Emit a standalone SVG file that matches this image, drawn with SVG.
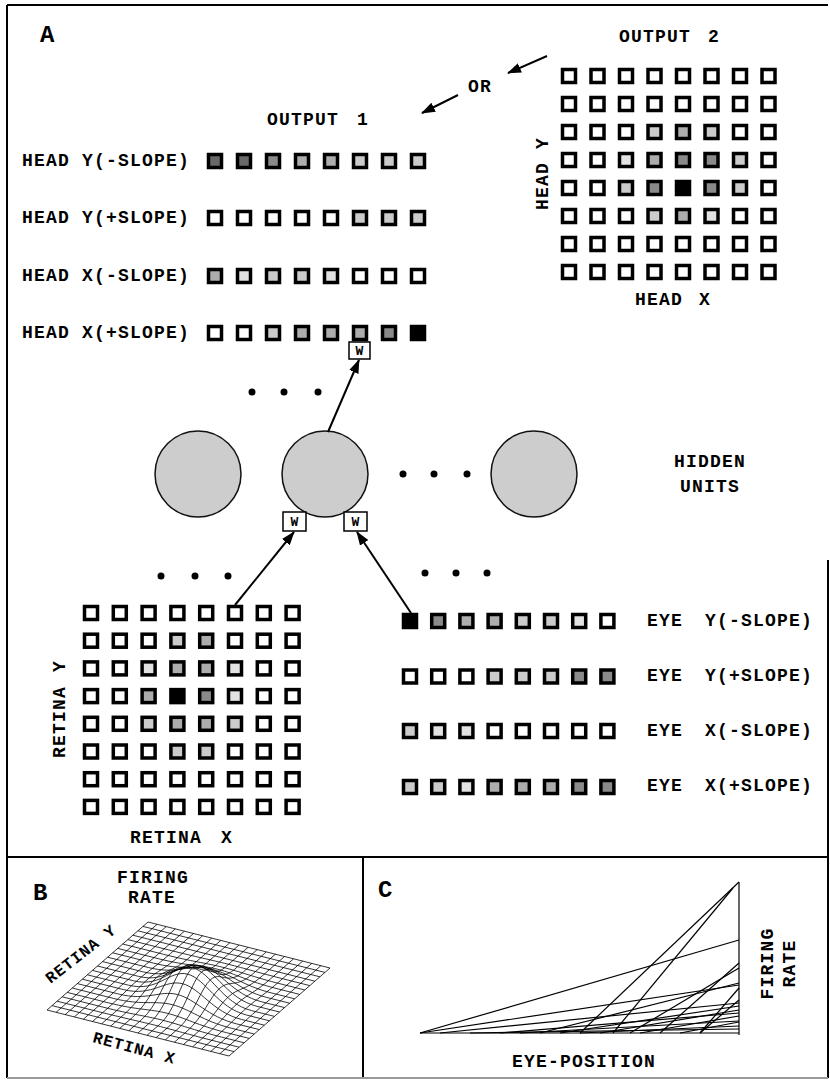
<svg xmlns="http://www.w3.org/2000/svg" width="830" height="1080" viewBox="0 0 830 1080">
<style>
.t{font-family:"Liberation Mono","Courier New",monospace;font-weight:bold;font-size:18px;letter-spacing:1.2px;fill:#000}
.tb{font-family:"Liberation Mono","Courier New",monospace;font-weight:bold;font-size:16px;letter-spacing:1px;fill:#000}
.big{font-family:"Liberation Mono","Courier New",monospace;font-weight:bold;font-size:24px;fill:#000}
.wt{font-family:"Liberation Mono","Courier New",monospace;font-weight:bold;font-size:13px;fill:#000}
.sq rect{stroke:#000;stroke-width:3.5}
.e{fill:#fff}.l1{fill:#e2e2e2}.l2{fill:#cbcbcb}.l3{fill:#adadad}.l4{fill:#8a8a8a}.l5{fill:#686868}.k{fill:#000}
.frame{stroke:#000;stroke-width:2;fill:none}
.arr{stroke:#000;stroke-width:2;fill:none}
.dot{fill:#000}
.unit{fill:#cdcdcd;stroke:#111;stroke-width:1.5}
.wbox{fill:#fff;stroke:#000;stroke-width:1.5}
.mesh path{fill:none;stroke:#000;stroke-width:0.8}
.curves line{stroke:#000;stroke-width:1.2}
</style>
<defs>
<marker id="ah" markerWidth="14" markerHeight="10" refX="13" refY="5" orient="auto" markerUnits="userSpaceOnUse"><path d="M0,0 L14,5 L0,10 z" fill="#000"/></marker>
</defs>

<g id="frame" class="frame">
<line x1="7" y1="5" x2="828" y2="5"/>
<line x1="7" y1="5" x2="7" y2="1078"/>
<line x1="828" y1="560" x2="828" y2="1078"/>
<line x1="7" y1="857" x2="828" y2="857"/>
<line x1="363" y1="857" x2="363" y2="1078"/>
<line x1="7" y1="1078" x2="828" y2="1078" stroke="#999"/>
</g>

<g id="panel-labels">
<text class="big" x="40" y="42">A</text>
<text class="big" x="33" y="900">B</text>
<text class="big" x="378" y="897">C</text>
</g>

<g id="output1">
<text class="t" x="267" y="125">OUTPUT <tspan x="357">1</tspan></text>
<text class="t" x="22" y="166">HEAD Y(-SLOPE)</text>
<text class="t" x="22" y="223">HEAD Y(+SLOPE)</text>
<text class="t" x="22" y="281">HEAD X(-SLOPE)</text>
<text class="t" x="22" y="338">HEAD X(+SLOPE)</text>
<g class="sq">
<rect x="208.5" y="154.5" width="13" height="13" class="l5"/><rect x="237.5" y="154.5" width="13" height="13" class="l5"/><rect x="266.5" y="154.5" width="13" height="13" class="l4"/><rect x="295.5" y="154.5" width="13" height="13" class="l3"/><rect x="324.5" y="154.5" width="13" height="13" class="l3"/><rect x="353.5" y="154.5" width="13" height="13" class="l2"/><rect x="382.5" y="154.5" width="13" height="13" class="l2"/><rect x="411.5" y="154.5" width="13" height="13" class="l2"/>
<rect x="208.5" y="211.5" width="13" height="13" class="e"/><rect x="237.5" y="211.5" width="13" height="13" class="e"/><rect x="266.5" y="211.5" width="13" height="13" class="e"/><rect x="295.5" y="211.5" width="13" height="13" class="e"/><rect x="324.5" y="211.5" width="13" height="13" class="e"/><rect x="353.5" y="211.5" width="13" height="13" class="l2"/><rect x="382.5" y="211.5" width="13" height="13" class="l2"/><rect x="411.5" y="211.5" width="13" height="13" class="l2"/>
<rect x="208.5" y="269.5" width="13" height="13" class="l3"/><rect x="237.5" y="269.5" width="13" height="13" class="l1"/><rect x="266.5" y="269.5" width="13" height="13" class="l2"/><rect x="295.5" y="269.5" width="13" height="13" class="l2"/><rect x="324.5" y="269.5" width="13" height="13" class="l1"/><rect x="353.5" y="269.5" width="13" height="13" class="e"/><rect x="382.5" y="269.5" width="13" height="13" class="e"/><rect x="411.5" y="269.5" width="13" height="13" class="e"/>
<rect x="208.5" y="326.5" width="13" height="13" class="e"/><rect x="237.5" y="326.5" width="13" height="13" class="e"/><rect x="266.5" y="326.5" width="13" height="13" class="l2"/><rect x="295.5" y="326.5" width="13" height="13" class="l3"/><rect x="324.5" y="326.5" width="13" height="13" class="l3"/><rect x="353.5" y="326.5" width="13" height="13" class="l3"/><rect x="382.5" y="326.5" width="13" height="13" class="l4"/><rect x="411.5" y="326.5" width="13" height="13" class="k"/>
</g>
</g>

<g id="output2">
<text class="t" x="619" y="42">OUTPUT <tspan x="708">2</tspan></text>
<text class="t" x="635" y="305">HEAD <tspan x="699">X</tspan></text>
<text class="t" transform="translate(548,210) rotate(-90)">HEAD <tspan x="61">Y</tspan></text>
<g class="sq">
<rect x="562.5" y="69.5" width="13" height="13" class="e"/><rect x="591" y="69.5" width="13" height="13" class="e"/><rect x="619.5" y="69.5" width="13" height="13" class="e"/><rect x="648" y="69.5" width="13" height="13" class="e"/><rect x="676.5" y="69.5" width="13" height="13" class="e"/><rect x="705" y="69.5" width="13" height="13" class="e"/><rect x="733.5" y="69.5" width="13" height="13" class="e"/><rect x="762" y="69.5" width="13" height="13" class="e"/>
<rect x="562.5" y="97.5" width="13" height="13" class="e"/><rect x="591" y="97.5" width="13" height="13" class="e"/><rect x="619.5" y="97.5" width="13" height="13" class="e"/><rect x="648" y="97.5" width="13" height="13" class="e"/><rect x="676.5" y="97.5" width="13" height="13" class="e"/><rect x="705" y="97.5" width="13" height="13" class="e"/><rect x="733.5" y="97.5" width="13" height="13" class="e"/><rect x="762" y="97.5" width="13" height="13" class="e"/>
<rect x="562.5" y="125.5" width="13" height="13" class="e"/><rect x="591" y="125.5" width="13" height="13" class="e"/><rect x="619.5" y="125.5" width="13" height="13" class="e"/><rect x="648" y="125.5" width="13" height="13" class="l2"/><rect x="676.5" y="125.5" width="13" height="13" class="l3"/><rect x="705" y="125.5" width="13" height="13" class="l2"/><rect x="733.5" y="125.5" width="13" height="13" class="e"/><rect x="762" y="125.5" width="13" height="13" class="e"/>
<rect x="562.5" y="153.5" width="13" height="13" class="e"/><rect x="591" y="153.5" width="13" height="13" class="e"/><rect x="619.5" y="153.5" width="13" height="13" class="l1"/><rect x="648" y="153.5" width="13" height="13" class="l3"/><rect x="676.5" y="153.5" width="13" height="13" class="l4"/><rect x="705" y="153.5" width="13" height="13" class="l4"/><rect x="733.5" y="153.5" width="13" height="13" class="l2"/><rect x="762" y="153.5" width="13" height="13" class="e"/>
<rect x="562.5" y="181.5" width="13" height="13" class="e"/><rect x="591" y="181.5" width="13" height="13" class="e"/><rect x="619.5" y="181.5" width="13" height="13" class="l2"/><rect x="648" y="181.5" width="13" height="13" class="l4"/><rect x="676.5" y="181.5" width="13" height="13" class="k"/><rect x="705" y="181.5" width="13" height="13" class="l4"/><rect x="733.5" y="181.5" width="13" height="13" class="l2"/><rect x="762" y="181.5" width="13" height="13" class="e"/>
<rect x="562.5" y="209.5" width="13" height="13" class="e"/><rect x="591" y="209.5" width="13" height="13" class="e"/><rect x="619.5" y="209.5" width="13" height="13" class="e"/><rect x="648" y="209.5" width="13" height="13" class="l2"/><rect x="676.5" y="209.5" width="13" height="13" class="l3"/><rect x="705" y="209.5" width="13" height="13" class="l1"/><rect x="733.5" y="209.5" width="13" height="13" class="e"/><rect x="762" y="209.5" width="13" height="13" class="e"/>
<rect x="562.5" y="237.5" width="13" height="13" class="e"/><rect x="591" y="237.5" width="13" height="13" class="e"/><rect x="619.5" y="237.5" width="13" height="13" class="e"/><rect x="648" y="237.5" width="13" height="13" class="e"/><rect x="676.5" y="237.5" width="13" height="13" class="e"/><rect x="705" y="237.5" width="13" height="13" class="e"/><rect x="733.5" y="237.5" width="13" height="13" class="e"/><rect x="762" y="237.5" width="13" height="13" class="e"/>
<rect x="562.5" y="265.5" width="13" height="13" class="e"/><rect x="591" y="265.5" width="13" height="13" class="e"/><rect x="619.5" y="265.5" width="13" height="13" class="e"/><rect x="648" y="265.5" width="13" height="13" class="e"/><rect x="676.5" y="265.5" width="13" height="13" class="e"/><rect x="705" y="265.5" width="13" height="13" class="e"/><rect x="733.5" y="265.5" width="13" height="13" class="e"/><rect x="762" y="265.5" width="13" height="13" class="e"/>
</g>
</g>

<g id="or-label"><text class="t" x="468" y="92">OR</text></g>

<g id="hidden-units">
<circle class="unit" cx="198" cy="474" r="43"/>
<circle class="unit" cx="325" cy="474" r="43"/>
<circle class="unit" cx="534" cy="474" r="43"/>
<circle class="dot" cx="403" cy="474" r="3.5"/><circle class="dot" cx="434" cy="474" r="3.5"/><circle class="dot" cx="467" cy="474" r="3.5"/>
<text class="t" x="710" y="467" text-anchor="middle">HIDDEN</text>
<text class="t" x="710" y="492" text-anchor="middle">UNITS</text>
</g>

<g id="dots-top"><circle class="dot" cx="252" cy="392" r="3.5"/><circle class="dot" cx="284" cy="392" r="3.5"/><circle class="dot" cx="318" cy="392" r="3.5"/></g>
<g id="dots-retina"><circle class="dot" cx="161" cy="576" r="3.5"/><circle class="dot" cx="195" cy="576" r="3.5"/><circle class="dot" cx="228" cy="576" r="3.5"/></g>
<g id="dots-eye"><circle class="dot" cx="425" cy="573" r="3.5"/><circle class="dot" cx="456" cy="573" r="3.5"/><circle class="dot" cx="487" cy="573" r="3.5"/></g>

<g id="w-out"><rect class="wbox" x="349" y="342" width="21" height="17"/><text class="wt" x="359.5" y="355" text-anchor="middle">W</text></g>
<g id="w-retina"><rect class="wbox" x="283" y="512" width="23" height="19"/><text class="wt" x="294.5" y="526" text-anchor="middle">W</text></g>
<g id="w-eye"><rect class="wbox" x="344" y="512" width="23" height="19"/><text class="wt" x="355.5" y="526" text-anchor="middle">W</text></g>

<g id="retina">
<text class="t" x="130" y="843">RETINA <tspan x="221">X</tspan></text>
<text class="t" transform="translate(65,758) rotate(-90)">RETINA <tspan x="86">Y</tspan></text>
<g class="sq">
<rect x="84.5" y="606.5" width="13" height="13" class="e"/><rect x="113.3" y="606.5" width="13" height="13" class="e"/><rect x="142.1" y="606.5" width="13" height="13" class="e"/><rect x="170.9" y="606.5" width="13" height="13" class="e"/><rect x="199.7" y="606.5" width="13" height="13" class="e"/><rect x="228.5" y="606.5" width="13" height="13" class="e"/><rect x="257.3" y="606.5" width="13" height="13" class="e"/><rect x="286.1" y="606.5" width="13" height="13" class="e"/>
<rect x="84.5" y="634.2" width="13" height="13" class="e"/><rect x="113.3" y="634.2" width="13" height="13" class="e"/><rect x="142.1" y="634.2" width="13" height="13" class="e"/><rect x="170.9" y="634.2" width="13" height="13" class="l2"/><rect x="199.7" y="634.2" width="13" height="13" class="l3"/><rect x="228.5" y="634.2" width="13" height="13" class="e"/><rect x="257.3" y="634.2" width="13" height="13" class="e"/><rect x="286.1" y="634.2" width="13" height="13" class="e"/>
<rect x="84.5" y="661.9" width="13" height="13" class="e"/><rect x="113.3" y="661.9" width="13" height="13" class="e"/><rect x="142.1" y="661.9" width="13" height="13" class="l1"/><rect x="170.9" y="661.9" width="13" height="13" class="l3"/><rect x="199.7" y="661.9" width="13" height="13" class="l3"/><rect x="228.5" y="661.9" width="13" height="13" class="l1"/><rect x="257.3" y="661.9" width="13" height="13" class="e"/><rect x="286.1" y="661.9" width="13" height="13" class="e"/>
<rect x="84.5" y="689.6" width="13" height="13" class="e"/><rect x="113.3" y="689.6" width="13" height="13" class="e"/><rect x="142.1" y="689.6" width="13" height="13" class="l3"/><rect x="170.9" y="689.6" width="13" height="13" class="k"/><rect x="199.7" y="689.6" width="13" height="13" class="l4"/><rect x="228.5" y="689.6" width="13" height="13" class="l1"/><rect x="257.3" y="689.6" width="13" height="13" class="e"/><rect x="286.1" y="689.6" width="13" height="13" class="e"/>
<rect x="84.5" y="717.3" width="13" height="13" class="e"/><rect x="113.3" y="717.3" width="13" height="13" class="e"/><rect x="142.1" y="717.3" width="13" height="13" class="l2"/><rect x="170.9" y="717.3" width="13" height="13" class="l3"/><rect x="199.7" y="717.3" width="13" height="13" class="l3"/><rect x="228.5" y="717.3" width="13" height="13" class="l2"/><rect x="257.3" y="717.3" width="13" height="13" class="e"/><rect x="286.1" y="717.3" width="13" height="13" class="e"/>
<rect x="84.5" y="745" width="13" height="13" class="e"/><rect x="113.3" y="745" width="13" height="13" class="e"/><rect x="142.1" y="745" width="13" height="13" class="e"/><rect x="170.9" y="745" width="13" height="13" class="l2"/><rect x="199.7" y="745" width="13" height="13" class="l2"/><rect x="228.5" y="745" width="13" height="13" class="e"/><rect x="257.3" y="745" width="13" height="13" class="e"/><rect x="286.1" y="745" width="13" height="13" class="e"/>
<rect x="84.5" y="772.7" width="13" height="13" class="e"/><rect x="113.3" y="772.7" width="13" height="13" class="e"/><rect x="142.1" y="772.7" width="13" height="13" class="e"/><rect x="170.9" y="772.7" width="13" height="13" class="e"/><rect x="199.7" y="772.7" width="13" height="13" class="e"/><rect x="228.5" y="772.7" width="13" height="13" class="e"/><rect x="257.3" y="772.7" width="13" height="13" class="e"/><rect x="286.1" y="772.7" width="13" height="13" class="e"/>
<rect x="84.5" y="800.4" width="13" height="13" class="e"/><rect x="113.3" y="800.4" width="13" height="13" class="e"/><rect x="142.1" y="800.4" width="13" height="13" class="e"/><rect x="170.9" y="800.4" width="13" height="13" class="e"/><rect x="199.7" y="800.4" width="13" height="13" class="e"/><rect x="228.5" y="800.4" width="13" height="13" class="e"/><rect x="257.3" y="800.4" width="13" height="13" class="e"/><rect x="286.1" y="800.4" width="13" height="13" class="e"/>
</g>
</g>

<g id="eye">
<text class="t" y="626"><tspan x="647">EYE</tspan><tspan x="705">Y(-SLOPE)</tspan></text>
<text class="t" y="681"><tspan x="647">EYE</tspan><tspan x="705">Y(+SLOPE)</tspan></text>
<text class="t" y="736"><tspan x="647">EYE</tspan><tspan x="705">X(-SLOPE)</tspan></text>
<text class="t" y="791"><tspan x="647">EYE</tspan><tspan x="705">X(+SLOPE)</tspan></text>
<g class="sq">
<rect x="403.5" y="614.5" width="13" height="13" class="k"/><rect x="431.7" y="614.5" width="13" height="13" class="l4"/><rect x="459.9" y="614.5" width="13" height="13" class="l3"/><rect x="488.1" y="614.5" width="13" height="13" class="l3"/><rect x="516.3" y="614.5" width="13" height="13" class="l2"/><rect x="544.5" y="614.5" width="13" height="13" class="l2"/><rect x="572.7" y="614.5" width="13" height="13" class="l1"/><rect x="600.9" y="614.5" width="13" height="13" class="e"/>
<rect x="403.5" y="670" width="13" height="13" class="e"/><rect x="431.7" y="670" width="13" height="13" class="e"/><rect x="459.9" y="670" width="13" height="13" class="e"/><rect x="488.1" y="670" width="13" height="13" class="l2"/><rect x="516.3" y="670" width="13" height="13" class="l2"/><rect x="544.5" y="670" width="13" height="13" class="l2"/><rect x="572.7" y="670" width="13" height="13" class="l4"/><rect x="600.9" y="670" width="13" height="13" class="l4"/>
<rect x="403.5" y="724.5" width="13" height="13" class="l2"/><rect x="431.7" y="724.5" width="13" height="13" class="l1"/><rect x="459.9" y="724.5" width="13" height="13" class="l1"/><rect x="488.1" y="724.5" width="13" height="13" class="e"/><rect x="516.3" y="724.5" width="13" height="13" class="e"/><rect x="544.5" y="724.5" width="13" height="13" class="e"/><rect x="572.7" y="724.5" width="13" height="13" class="e"/><rect x="600.9" y="724.5" width="13" height="13" class="e"/>
<rect x="403.5" y="780.5" width="13" height="13" class="l2"/><rect x="431.7" y="780.5" width="13" height="13" class="l2"/><rect x="459.9" y="780.5" width="13" height="13" class="l1"/><rect x="488.1" y="780.5" width="13" height="13" class="l3"/><rect x="516.3" y="780.5" width="13" height="13" class="l3"/><rect x="544.5" y="780.5" width="13" height="13" class="l3"/><rect x="572.7" y="780.5" width="13" height="13" class="l4"/><rect x="600.9" y="780.5" width="13" height="13" class="l4"/>
</g>
</g>

<g id="connectors" class="arr">
<line x1="547" y1="56" x2="508" y2="73" marker-end="url(#ah)"/>
<line x1="458" y1="95" x2="422" y2="113" marker-end="url(#ah)"/>
<line x1="328" y1="432" x2="359" y2="360" marker-end="url(#ah)"/>
<line x1="235" y1="605" x2="294" y2="532" marker-end="url(#ah)"/>
<line x1="411" y1="613" x2="357" y2="532" marker-end="url(#ah)"/>
</g>

<g id="panel-b">
<text class="t" x="153" y="883" text-anchor="middle">FIRING</text>
<text class="t" x="152" y="903" text-anchor="middle">RATE</text>
<text class="tb" transform="translate(84,958) rotate(-38)" text-anchor="middle">RETINA Y</text>
<text class="tb" transform="translate(133,1053) rotate(15)" text-anchor="middle">RETINA X</text>
<g class="mesh">
<path d="M148 922l182 46"/>
<path d="M142.95 926.4l182 46"/>
<path d="M137.9 930.8l182 46"/>
<path d="M132.85 935.2l182 46"/>
<path d="M127.8 939.6l40.95 10.35c29.58 7.48 40.95 9.6 59.15 14.2c18.2 4.6 29.58 8.23 59.15 15.7l22.75 5.75"/>
<path d="M122.75 944l40.95 10.35c29.58 7.48 40.95 8.35 59.15 12.95c18.2 4.6 29.58 9.48 59.15 16.95l22.75 5.75"/>
<path d="M117.7 948.4l40.95 10.35c29.58 7.48 40.95 5.95 59.15 10.55c18.2 4.6 29.58 11.88 59.15 19.35l22.75 5.75"/>
<path d="M112.65 952.8l40.95 10.35c29.58 7.48 40.95 1.75 59.15 6.35c18.2 4.6 29.58 16.08 59.15 23.55l22.75 5.75"/>
<path d="M107.6 957.2l40.95 10.35c29.58 7.48 40.95 -4.05 59.15 0.55c18.2 4.6 29.58 21.88 59.15 29.35l22.75 5.75"/>
<path d="M102.55 961.6l40.95 10.35c29.58 7.48 40.95 -10.45 59.15 -5.85c18.2 4.6 29.58 28.28 59.15 35.75l22.75 5.75"/>
<path d="M97.5 966l40.95 10.35c29.58 7.48 40.95 -15.65 59.15 -11.05c18.2 4.6 29.58 33.48 59.15 40.95l22.75 5.75"/>
<path d="M92.45 970.4l40.95 10.35c29.58 7.48 40.95 -17.65 59.15 -13.05c18.2 4.6 29.58 35.48 59.15 42.95l22.75 5.75"/>
<path d="M87.4 974.8l40.95 10.35c29.58 7.48 40.95 -15.65 59.15 -11.05c18.2 4.6 29.58 33.48 59.15 40.95l22.75 5.75"/>
<path d="M82.35 979.2l40.95 10.35c29.58 7.48 40.95 -10.45 59.15 -5.85c18.2 4.6 29.58 28.28 59.15 35.75l22.75 5.75"/>
<path d="M77.3 983.6l40.95 10.35c29.58 7.48 40.95 -4.05 59.15 0.55c18.2 4.6 29.58 21.88 59.15 29.35l22.75 5.75"/>
<path d="M72.25 988l40.95 10.35c29.58 7.48 40.95 1.75 59.15 6.35c18.2 4.6 29.58 16.08 59.15 23.55l22.75 5.75"/>
<path d="M67.2 992.4l40.95 10.35c29.58 7.48 40.95 5.95 59.15 10.55c18.2 4.6 29.58 11.88 59.15 19.35l22.75 5.75"/>
<path d="M62.15 996.8l40.95 10.35c29.58 7.48 40.95 8.35 59.15 12.95c18.2 4.6 29.58 9.48 59.15 16.95l22.75 5.75"/>
<path d="M57.1 1001.2l40.95 10.35c29.58 7.48 40.95 9.6 59.15 14.2c18.2 4.6 29.58 8.23 59.15 15.7l22.75 5.75"/>
<path d="M52.05 1005.6l182 46"/>
<path d="M47 1010l182 46"/>
<path d="M148 922l-101 88"/>
<path d="M157.1 924.3l-101 88"/>
<path d="M166.2 926.6l-101 88"/>
<path d="M175.3 928.9l-101 88"/>
<path d="M184.4 931.2l-22.73 19.8c-16.41 14.3 -22.73 19.05 -32.83 27.85c-10.1 8.8 -16.41 15.05 -32.83 29.35l-12.63 11"/>
<path d="M193.5 933.5l-22.73 19.8c-16.41 14.3 -22.73 17.8 -32.83 26.6c-10.1 8.8 -16.41 16.3 -32.83 30.6l-12.63 11"/>
<path d="M202.6 935.8l-22.73 19.8c-16.41 14.3 -22.73 15.4 -32.83 24.2c-10.1 8.8 -16.41 18.7 -32.83 33l-12.63 11"/>
<path d="M211.7 938.1l-22.73 19.8c-16.41 14.3 -22.73 11.2 -32.83 20c-10.1 8.8 -16.41 22.9 -32.83 37.2l-12.63 11"/>
<path d="M220.8 940.4l-22.73 19.8c-16.41 14.3 -22.73 5.4 -32.83 14.2c-10.1 8.8 -16.41 28.7 -32.83 43l-12.63 11"/>
<path d="M229.9 942.7l-22.73 19.8c-16.41 14.3 -22.73 -1 -32.83 7.8c-10.1 8.8 -16.41 35.1 -32.83 49.4l-12.63 11"/>
<path d="M239 945l-22.73 19.8c-16.41 14.3 -22.73 -6.2 -32.83 2.6c-10.1 8.8 -16.41 40.3 -32.83 54.6l-12.63 11"/>
<path d="M248.1 947.3l-22.73 19.8c-16.41 14.3 -22.73 -8.2 -32.83 0.6c-10.1 8.8 -16.41 42.3 -32.83 56.6l-12.63 11"/>
<path d="M257.2 949.6l-22.73 19.8c-16.41 14.3 -22.73 -6.2 -32.83 2.6c-10.1 8.8 -16.41 40.3 -32.83 54.6l-12.63 11"/>
<path d="M266.3 951.9l-22.73 19.8c-16.41 14.3 -22.73 -1 -32.83 7.8c-10.1 8.8 -16.41 35.1 -32.83 49.4l-12.63 11"/>
<path d="M275.4 954.2l-22.73 19.8c-16.41 14.3 -22.73 5.4 -32.83 14.2c-10.1 8.8 -16.41 28.7 -32.83 43l-12.63 11"/>
<path d="M284.5 956.5l-22.73 19.8c-16.41 14.3 -22.73 11.2 -32.83 20c-10.1 8.8 -16.41 22.9 -32.83 37.2l-12.63 11"/>
<path d="M293.6 958.8l-22.73 19.8c-16.41 14.3 -22.73 15.4 -32.83 24.2c-10.1 8.8 -16.41 18.7 -32.83 33l-12.63 11"/>
<path d="M302.7 961.1l-22.73 19.8c-16.41 14.3 -22.73 17.8 -32.83 26.6c-10.1 8.8 -16.41 16.3 -32.83 30.6l-12.63 11"/>
<path d="M311.8 963.4l-22.73 19.8c-16.41 14.3 -22.73 19.05 -32.83 27.85c-10.1 8.8 -16.41 15.05 -32.83 29.35l-12.63 11"/>
<path d="M320.9 965.7l-101 88"/>
<path d="M330 968l-101 88"/>
</g>
</g>

<g id="panel-c">
<text class="t" x="512" y="1067">EYE-POSITION</text>
<text class="t" transform="translate(773,963.5) rotate(-90)" text-anchor="middle">FIRING</text>
<text class="t" transform="translate(795,963.5) rotate(-90)" text-anchor="middle">RATE</text>
<g class="curves">
<line x1="420" y1="1033" x2="739" y2="1033"/>
<line x1="739" y1="882" x2="739" y2="1035"/>
<line x1="420" y1="1033" x2="739" y2="940"/>
<line x1="420" y1="1033" x2="739" y2="985"/>
<line x1="440" y1="1033" x2="739" y2="1003"/>
<line x1="580" y1="1033" x2="739" y2="882"/>
<line x1="613" y1="1033" x2="733" y2="888"/>
<line x1="660" y1="1033" x2="739" y2="963"/>
<line x1="630" y1="1033" x2="739" y2="968"/>
<line x1="700" y1="1033" x2="739" y2="988"/>
<line x1="540" y1="1033" x2="739" y2="983"/>
<line x1="560" y1="1033" x2="739" y2="1006"/>
<line x1="600" y1="1033" x2="739" y2="1010"/>
<line x1="500" y1="1033" x2="739" y2="1013"/>
<line x1="640" y1="1033" x2="739" y2="1016"/>
<line x1="520" y1="1033" x2="739" y2="1021"/>
<line x1="680" y1="1033" x2="739" y2="1022"/>
<line x1="580" y1="1033" x2="739" y2="1026"/>
<line x1="700" y1="1033" x2="739" y2="1000"/>
<line x1="470" y1="1033" x2="739" y2="1029"/>
</g>
</g>
</svg>
